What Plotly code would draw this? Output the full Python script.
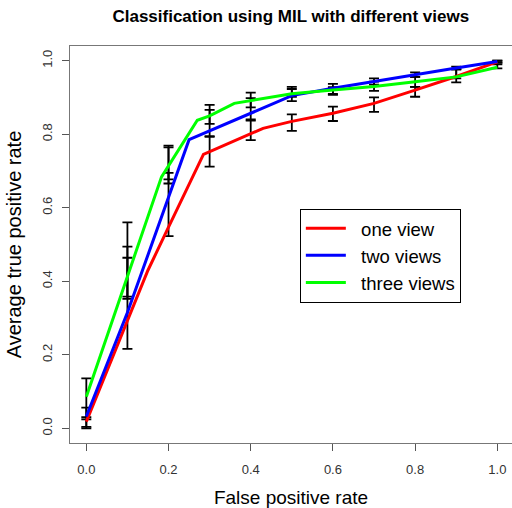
import plotly.graph_objects as go

# ---- data ----
series_names = ["one view", "two views", "three views"]
series_colors = ["#FF0000", "#0000FF", "#00FF00"]

red_x = [0.0, 0.1, 0.15, 0.2, 0.285, 0.43, 0.5, 0.6, 0.7, 0.8, 0.9, 1.0]
red_y = [0.018, 0.29, 0.43, 0.547, 0.745, 0.816, 0.835, 0.857, 0.884, 0.92, 0.957, 0.997]

blue_x = [0.0, 0.1, 0.25, 0.3, 0.4, 0.5, 0.6, 0.7, 0.8, 0.9, 1.0]
blue_y = [0.032, 0.315, 0.785, 0.809, 0.857, 0.905, 0.925, 0.944, 0.963, 0.98, 0.998]

green_x = [0.0, 0.1, 0.183, 0.27, 0.3, 0.36, 0.5, 0.6, 0.7, 0.8, 0.9, 1.0]
green_y = [0.086, 0.413, 0.684, 0.838, 0.85, 0.884, 0.91, 0.92, 0.93, 0.943, 0.956, 0.982]

# error bars (lower, upper) at x = 0.0, 0.1, ..., 1.0
eb_x = [0.0, 0.1, 0.2, 0.3, 0.4, 0.5, 0.6, 0.7, 0.8, 0.9, 1.0]
red_lo = [0.000, 0.358, 0.523, 0.712, 0.784, 0.809, 0.836, 0.861, 0.902, 0.941, 0.995]
red_hi = [0.024, 0.494, 0.695, 0.795, 0.837, 0.854, 0.875, 0.900, 0.929, 0.977, 1.000]
blue_lo = [0.004, 0.216, 0.666, 0.793, 0.840, 0.902, 0.910, 0.935, 0.956, 0.976, 0.995]
blue_hi = [0.056, 0.464, 0.764, 0.866, 0.898, 0.923, 0.928, 0.952, 0.968, 0.984, 1.000]
green_lo = [0.030, 0.352, 0.677, 0.828, 0.873, 0.890, 0.907, 0.918, 0.929, 0.952, 0.979]
green_hi = [0.136, 0.560, 0.769, 0.880, 0.913, 0.929, 0.937, 0.943, 0.956, 0.977, 0.990]

x_ticks = [0.0, 0.2, 0.4, 0.6, 0.8, 1.0]
x_tick_labels = ["0.0", "0.2", "0.4", "0.6", "0.8", "1.0"]
y_ticks = [0.0, 0.2, 0.4, 0.6, 0.8, 1.0]
y_tick_labels = ["0.0", "0.2", "0.4", "0.6", "0.8", "1.0"]

FONT = "Liberation Sans, Arial, sans-serif"

fig = go.Figure()

lines = [(red_x, red_y), (blue_x, blue_y), (green_x, green_y)]
bars = [(red_lo, red_hi), (blue_lo, blue_hi), (green_lo, green_hi)]

# error bars (black)
for lo, hi in bars:
    mid = [(a + b) / 2 for a, b in zip(lo, hi)]
    fig.add_trace(go.Scatter(
        x=eb_x, y=mid, mode="markers",
        marker=dict(size=1, opacity=0),
        error_y=dict(type="data", symmetric=False,
                     array=[h - m for h, m in zip(hi, mid)],
                     arrayminus=[m - l for m, l in zip(mid, lo)],
                     color="black", thickness=1.8, width=5),
        showlegend=False, hoverinfo="skip"))

for (xs, ys), name, col in zip(lines, series_names, series_colors):
    fig.add_trace(go.Scatter(x=xs, y=ys, mode="lines",
                             name="\u00a0\u00a0" + name,
                             line=dict(color=col, width=3)))

fig.update_layout(
    width=512, height=508,
    margin=dict(l=70, r=0, t=46, b=65, autoexpand=False),
    paper_bgcolor="white", plot_bgcolor="white",
    font=dict(family=FONT, color="#333333", size=13),
    title=dict(text="<b>Classification using MIL with different views</b>",
               x=0.568, xanchor="center", y=0.9685, yanchor="middle",
               font=dict(family=FONT, size=17, color="black")),
    legend=dict(x=0.520, y=0.590, xanchor="left", yanchor="top",
                bordercolor="black", borderwidth=1, bgcolor="white",
                font=dict(family=FONT, size=18.5, color="black"),
                itemwidth=40),
)

fig.update_xaxes(range=[-0.0397, 1.0357], showgrid=False, zeroline=False,
                 automargin=False, ticklabeloverflow="allow",
                 tickmode="array", tickvals=x_ticks, ticktext=x_tick_labels,
                 ticks="outside", ticklen=7, tickcolor="#555555",
                 ticklabelstandoff=7,
                 showline=True, linecolor="#777777", linewidth=1, mirror=True,
                 title=dict(text="False positive rate", standoff=15,
                            font=dict(family=FONT, size=19, color="black")))
fig.update_yaxes(range=[-0.04, 1.04], showgrid=False, zeroline=False,
                 automargin=False,
                 tickmode="array", tickvals=y_ticks, ticktext=y_tick_labels,
                 ticks="outside", ticklen=7, tickcolor="#555555", tickangle=-90,
                 ticklabelstandoff=5,
                 showline=True, linecolor="#777777", linewidth=1,
                 title=dict(text="Average true positive rate", standoff=12,
                            font=dict(family=FONT, size=20, color="black")))

# remove the browser's default 8px page margin so the 512x508 figure fills the window
fig.write_html("out.html",
               config={"displayModeBar": False},
               post_script="document.body.style.margin='0';"
                           "document.body.style.overflow='hidden';")
